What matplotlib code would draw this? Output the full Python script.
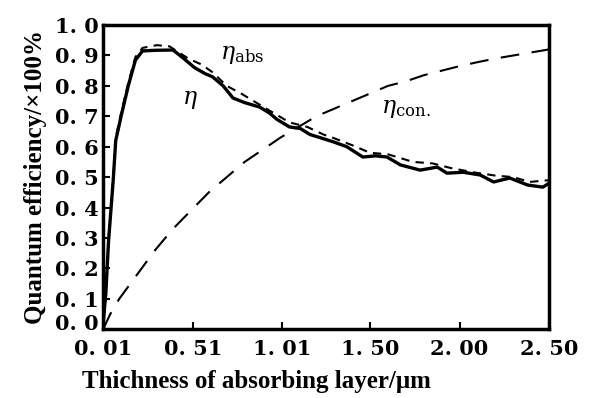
import matplotlib
matplotlib.use("Agg")
from matplotlib import pyplot as plt
from matplotlib.transforms import ScaledTranslation

# thickness (um) and efficiency values
x_eta = [0.01, 0.025, 0.04, 0.066, 0.08, 0.11, 0.15, 0.19, 0.23, 0.30, 0.40, 0.46,
         0.52, 0.58, 0.62, 0.68, 0.735, 0.80, 0.885, 0.94, 0.98, 1.05, 1.11, 1.165,
         1.22, 1.30, 1.37, 1.46, 1.53, 1.595, 1.67, 1.78, 1.875, 1.93, 2.02, 2.115,
         2.19, 2.28, 2.38, 2.465, 2.50]
y_eta = [0.02, 0.12, 0.29, 0.49, 0.62, 0.70, 0.80, 0.885, 0.915, 0.917, 0.918, 0.89,
         0.86, 0.84, 0.83, 0.80, 0.76, 0.745, 0.73, 0.71, 0.69, 0.665, 0.66, 0.64,
         0.63, 0.615, 0.60, 0.566, 0.57, 0.566, 0.54, 0.523, 0.533, 0.513, 0.516, 0.507,
         0.484, 0.497, 0.474, 0.467, 0.48]

x_abs = [0.01, 0.025, 0.04, 0.066, 0.08, 0.11, 0.15, 0.19, 0.23, 0.31, 0.38, 0.485,
         0.56, 0.62, 0.70, 0.78, 0.85, 0.95, 1.05, 1.15, 1.24, 1.29, 1.40, 1.50,
         1.60, 1.74, 1.85, 1.95, 2.075, 2.20, 2.30, 2.39, 2.50]
y_abs = [0.02, 0.13, 0.30, 0.50, 0.63, 0.71, 0.81, 0.895, 0.925, 0.934, 0.93, 0.89,
         0.87, 0.845, 0.80, 0.775, 0.75, 0.715, 0.68, 0.665, 0.64, 0.63, 0.605, 0.58,
         0.575, 0.55, 0.545, 0.53, 0.516, 0.505, 0.50, 0.484, 0.49]

x_con = [0.01, 0.05, 0.1, 0.15, 0.2, 0.25, 0.3, 0.35, 0.4, 0.5, 0.6, 0.7, 0.8, 0.9,
         1.0, 1.1, 1.2, 1.3, 1.4, 1.5, 1.6, 1.7, 1.8, 1.9, 2.0, 2.1, 2.2, 2.3, 2.4, 2.5]
y_con = [0.0, 0.05, 0.10, 0.14, 0.18, 0.22, 0.26, 0.295, 0.33, 0.39, 0.45, 0.50,
         0.55, 0.59, 0.63, 0.665, 0.70, 0.725, 0.75, 0.775, 0.80, 0.815, 0.835, 0.85,
         0.865, 0.878, 0.89, 0.90, 0.91, 0.92]

xticks = [0.01, 0.51, 1.01, 1.50, 2.00, 2.50]
xtick_labels = ["0. 01", "0. 51", "1. 01", "1. 50", "2. 00", "2. 50"]
yticks = [0.0, 0.1, 0.2, 0.3, 0.4, 0.5, 0.6, 0.7, 0.8, 0.9, 1.0]
ytick_labels = ["0. 0", "0. 1", "0. 2", "0. 3", "0. 4", "0. 5", "0. 6", "0. 7",
                "0. 8", "0. 9", "1. 0"]

plt.rcParams['font.family'] = ['DejaVu Serif']
plt.rcParams['mathtext.fontset'] = 'dejavuserif'

fig = plt.figure(figsize=(5.93, 3.98), dpi=100)
ax = fig.add_axes([0.174, 0.173, 0.752, 0.764])

ax.plot(x_con, y_con, color='k', lw=1.5, dashes=(9, 6))
ax.plot(x_abs, y_abs, color='k', lw=1.5, dashes=(4, 3))
ax.plot(x_eta, y_eta, color='k', lw=2.4)

ax.set_xlim(0.01, 2.50)
ax.set_ylim(0.0, 1.0)
ax.set_xticks(xticks)
ax.set_xticklabels(xtick_labels, fontsize=15, fontweight='bold')
ax.set_yticks(yticks)
ax.set_yticklabels(ytick_labels, fontsize=15, fontweight='bold')
ax.tick_params(axis='both', direction='in', length=5, width=1.5)
ax.tick_params(axis='y', pad=3)
ax.tick_params(axis='x', pad=7)

# nudge the bottom y label up a little, as in the original
lab0 = ax.get_yticklabels()[0]
lab0.set_transform(lab0.get_transform() + ScaledTranslation(0, 5 / 72, fig.dpi_scale_trans))

for s in ax.spines.values():
    s.set_linewidth(2.5)

ax.set_xlabel("Thichness of absorbing layer/\u03bcm", fontsize=18, fontweight='bold',
              family='Liberation Serif')
ax.xaxis.set_label_coords(0.343, -0.135)
ax.set_ylabel("Quantum efficiency/\u00d7100%", fontsize=18, fontweight='bold',
              family='Liberation Serif', labelpad=6)

ax.text(0.66, 0.89, r"$\eta_{\mathrm{abs}}$", fontsize=17)
ax.text(0.45, 0.74, r"$\eta$", fontsize=17)
ax.text(1.56, 0.71, r"$\eta_{\mathrm{con.}}$", fontsize=17)

fig.savefig("out.png", dpi=100)
